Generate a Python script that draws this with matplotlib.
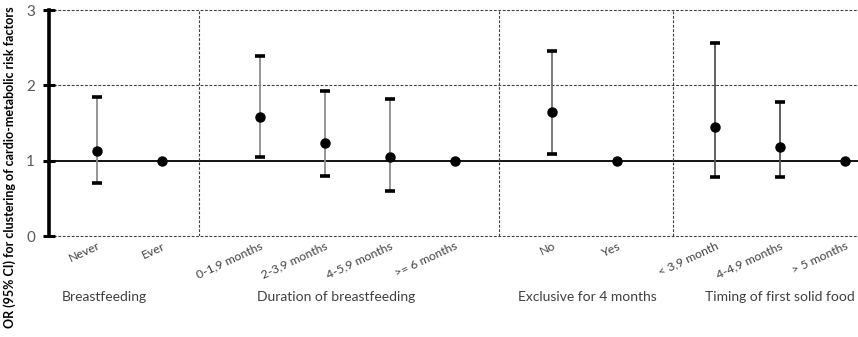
import matplotlib.pyplot as plt
import numpy as np

plt.rcParams['font.family'] = ['Lato', 'DejaVu Sans']

# categories, grouped by exposure
labels = ["Never", "Ever",
          "0-1,9 months", "2-3,9 months", "4-5,9 months", ">= 6 months",
          "No", "Yes",
          "< 3,9 month", "4-4,9 months", "> 5 months"]
positions = [0, 1, 2.5, 3.5, 4.5, 5.5, 7, 8, 9.5, 10.5, 11.5]

# odds ratios and 95% CI (None = reference category)
odds = [1.13, 1.00, 1.58, 1.23, 1.05, 1.00, 1.64, 1.00, 1.45, 1.18, 1.00]
ci_low = [0.70, None, 1.05, 0.79, 0.60, None, 1.09, None, 0.78, 0.78, None]
ci_high = [1.84, None, 2.39, 1.92, 1.82, None, 2.45, None, 2.56, 1.78, None]
bar_colors = ['#8c8c8c', None, '#8c8c8c', '#8c8c8c', '#8c8c8c', None,
              '#6e6e6e', None, '#555555', '#555555', None]

groups = ["Breastfeeding", "Duration of breastfeeding",
          "Exclusive for 4 months", "Timing of first solid food"]
group_x = [0.10, 3.67, 7.53, 10.5]
separators = [1.56, 6.17, 8.86]

fig = plt.figure(figsize=(8.58, 3.37), dpi=100)
ax = fig.add_axes([49 / 858, 101 / 337, 1 - 49 / 858, 226 / 337])

ax.set_xlim(-0.745, 11.70)
ax.set_ylim(0, 3)

# grid: dashed at 0, 2, 3 and a solid line at OR = 1
for yv in [0, 2, 3]:
    ax.axhline(yv, color='#404040', lw=0.8, ls=(0, (2.5, 1.5)), zorder=1, clip_on=False)
ax.axhline(1, color='black', lw=1.3, zorder=1)
for xs in separators:
    ax.plot([xs, xs], [0, 3], color='#404040', lw=0.8, ls=(0, (2.5, 1.5)), zorder=1)

# confidence intervals
for x, lo, hi, c in zip(positions, ci_low, ci_high, bar_colors):
    if lo is None:
        continue
    ax.vlines(x, lo, hi, color=c, lw=1.3, zorder=2)
    ax.plot([x, x], [lo, hi], ls='none', marker='_', ms=7.5, mew=2.6,
            color='black', zorder=3)

ax.plot(positions, odds, ls='none', marker='o', ms=6.5, color='black', zorder=4)

# axes styling
for side in ['top', 'right', 'bottom']:
    ax.spines[side].set_visible(False)
ax.spines['left'].set_linewidth(2.6)
ax.spines['left'].set_zorder(5)
ax.set_yticks([0, 1, 2, 3])
ax.tick_params(axis='y', direction='inout', length=8, width=2.2,
               labelsize=11, labelcolor='#595959', pad=6)
ax.set_xticks(positions)
ax.set_xticklabels(labels, rotation=25, ha='right', rotation_mode='anchor',
                   fontsize=8.8, color='#404040')
ax.tick_params(axis='x', length=0, pad=3)

ax.set_ylabel("OR (95% CI) for clustering of cardio-metabolic risk factors",
              fontsize=9, fontweight='bold')
ax.yaxis.set_label_coords(-0.041, 0.305)

for gx, g in zip(group_x, groups):
    ax.text(gx, -0.81, g, ha='center', va='center', fontsize=10,
            color='#404040', transform=ax.transData, clip_on=False)

fig.savefig('out.png', dpi=100)
